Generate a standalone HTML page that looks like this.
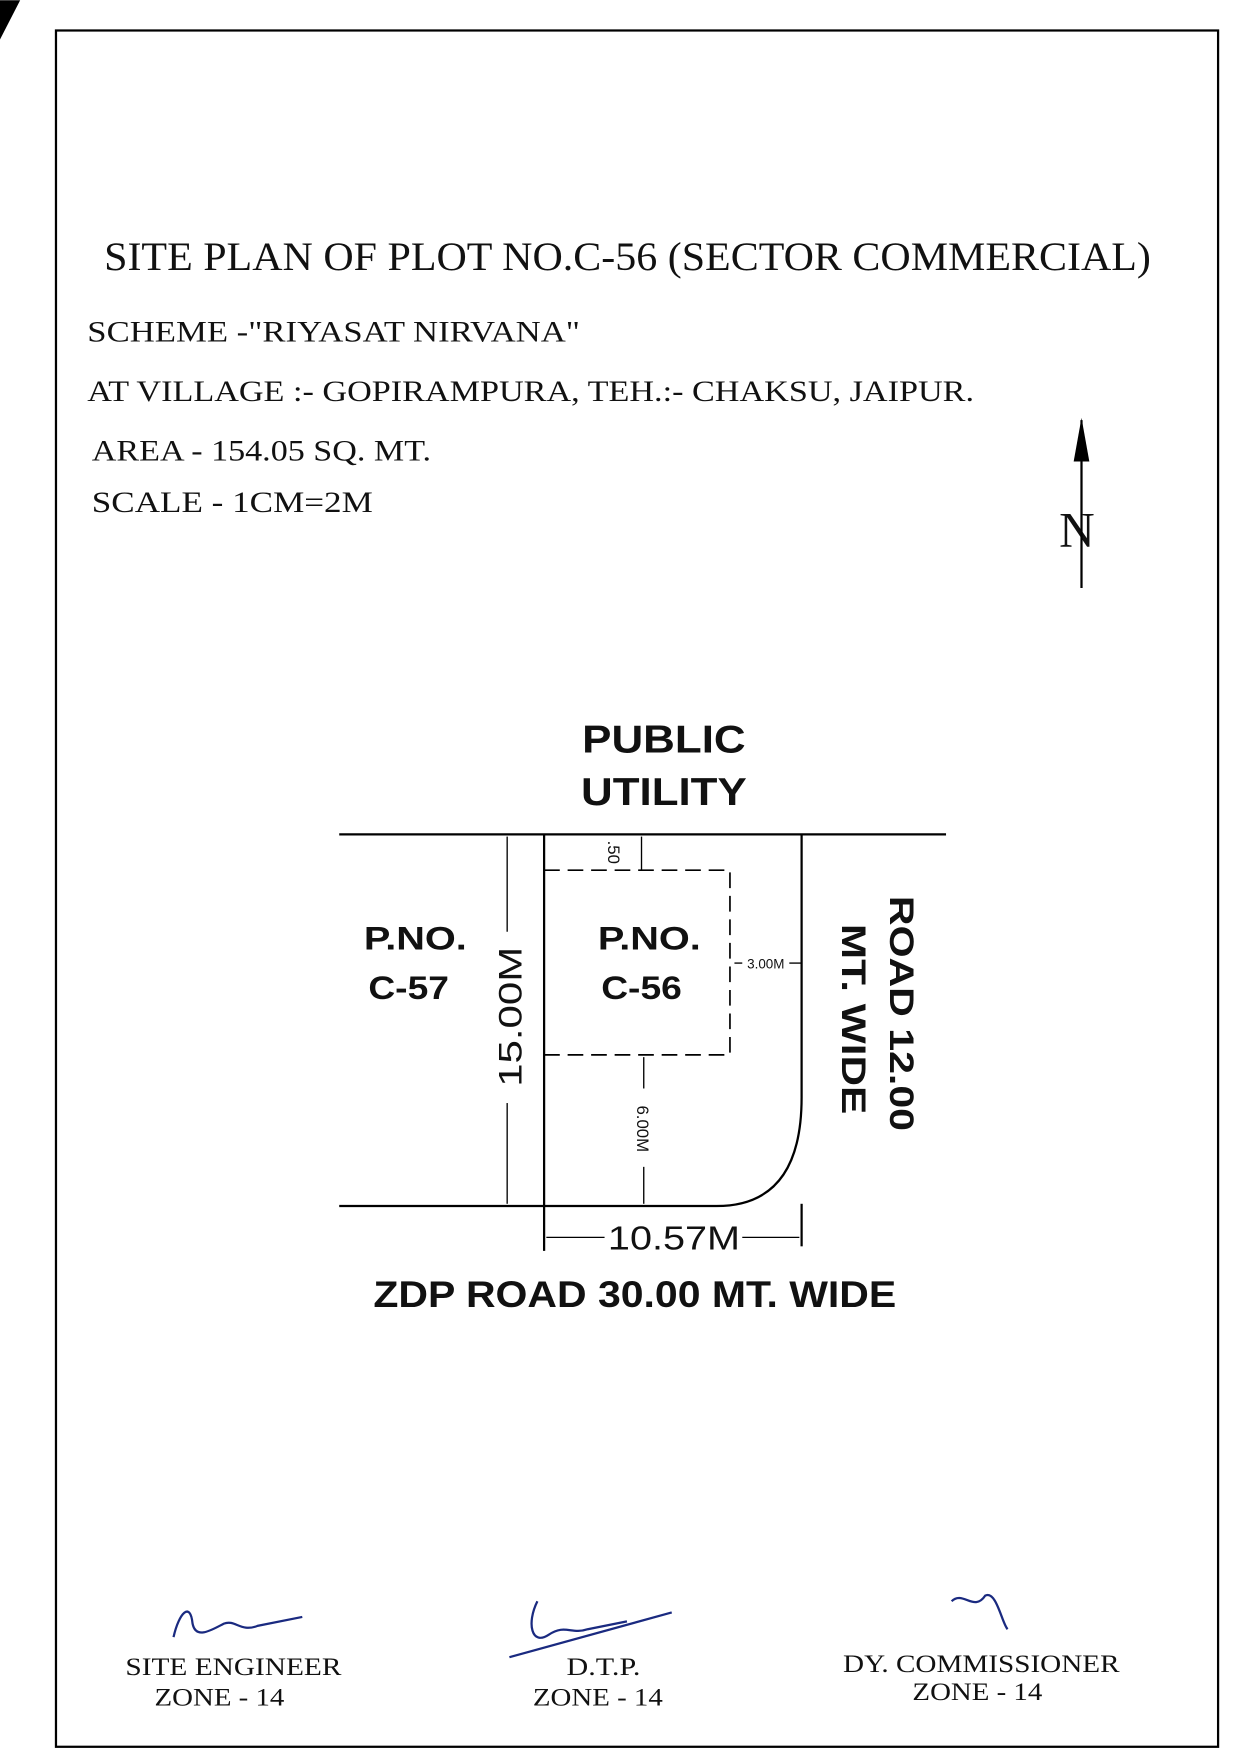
<!DOCTYPE html>
<html><head><style>html,body{margin:0;padding:0;background:#fff}svg{display:block}</style></head>
<body>
<svg width="1236" height="1756" viewBox="0 0 1104 1568" xmlns="http://www.w3.org/2000/svg">
<rect width="1104" height="1568" fill="#fff"/>
<polygon points="0,0 18,0 0,35" fill="#000"/>
<rect x="50" y="27" width="1038" height="1533" fill="none" stroke="#000" stroke-width="2"/>
<g font-family="Liberation Serif, serif" fill="#111" lengthAdjust="spacingAndGlyphs">
<text x="93" y="241" font-size="36" textLength="935" lengthAdjust="spacingAndGlyphs">SITE PLAN OF PLOT NO.C-56 (SECTOR COMMERCIAL)</text>
<text x="78" y="305" font-size="26" textLength="440" lengthAdjust="spacingAndGlyphs">SCHEME -"RIYASAT NIRVANA"</text>
<text x="78" y="358" font-size="26" textLength="792" lengthAdjust="spacingAndGlyphs">AT VILLAGE :- GOPIRAMPURA, TEH.:- CHAKSU, JAIPUR.</text>
<text x="82" y="411" font-size="26" textLength="303" lengthAdjust="spacingAndGlyphs">AREA  - 154.05 SQ. MT.</text>
<text x="82" y="457" font-size="26" textLength="251" lengthAdjust="spacingAndGlyphs">SCALE -  1CM=2M</text>
<text x="946" y="488" font-size="44">N</text>
<text x="112" y="1496" font-size="23" textLength="193" lengthAdjust="spacingAndGlyphs">SITE ENGINEER</text>
<text x="138" y="1523" font-size="23" textLength="116" lengthAdjust="spacingAndGlyphs">ZONE - 14</text>
<text x="506" y="1496" font-size="23" textLength="66" lengthAdjust="spacingAndGlyphs">D.T.P.</text>
<text x="476" y="1523" font-size="23" textLength="116" lengthAdjust="spacingAndGlyphs">ZONE - 14</text>
<text x="753" y="1493" font-size="23" textLength="247" lengthAdjust="spacingAndGlyphs">DY. COMMISSIONER</text>
<text x="815" y="1518" font-size="23" textLength="116" lengthAdjust="spacingAndGlyphs">ZONE - 14</text>
</g>
<line x1="966" y1="375" x2="966" y2="525" stroke="#000" stroke-width="2"/>
<polygon points="966,373 959,412 973,412" fill="#000"/>
<g font-family="Liberation Sans, sans-serif" font-weight="bold" fill="#111" text-anchor="middle">
<text x="593" y="672" font-size="35" textLength="146" lengthAdjust="spacingAndGlyphs">PUBLIC</text>
<text x="593" y="719" font-size="35" textLength="148" lengthAdjust="spacingAndGlyphs">UTILITY</text>
<text x="371" y="848" font-size="29" textLength="92" lengthAdjust="spacingAndGlyphs">P.NO.</text>
<text x="365" y="892" font-size="29" textLength="72" lengthAdjust="spacingAndGlyphs">C-57</text>
<text x="580" y="848" font-size="29" textLength="92" lengthAdjust="spacingAndGlyphs">P.NO.</text>
<text x="573" y="892" font-size="29" textLength="72" lengthAdjust="spacingAndGlyphs">C-56</text>
<text x="567" y="1167" font-size="33" textLength="467" lengthAdjust="spacingAndGlyphs">ZDP ROAD 30.00 MT. WIDE</text>
<text transform="translate(795,905) rotate(90)" font-size="31" textLength="210" lengthAdjust="spacingAndGlyphs">ROAD 12.00</text>
<text transform="translate(752,910) rotate(90)" font-size="31" textLength="170" lengthAdjust="spacingAndGlyphs">MT. WIDE</text>
</g>
<g stroke="#000" fill="none" stroke-width="2">
<line x1="303" y1="745" x2="845" y2="745"/>
<path d="M303 1077 H640 Q716 1077 716 980 V745"/>
<line x1="486" y1="745" x2="486" y2="1117"/>
<line x1="716" y1="1075" x2="716" y2="1113"/>
<rect x="486" y="777" width="166" height="165" stroke-dasharray="14,7" stroke-width="1.5"/>
<g stroke-width="1.2">
<line x1="453" y1="747" x2="453" y2="832"/><line x1="453" y1="985" x2="453" y2="1075"/>
<line x1="573" y1="747" x2="573" y2="777"/>
<line x1="656" y1="860" x2="663" y2="860"/><line x1="705" y1="860" x2="716" y2="860"/>
<line x1="575" y1="944" x2="575" y2="972"/><line x1="575" y1="1042" x2="575" y2="1075"/>
<line x1="488" y1="1105" x2="540" y2="1105"/><line x1="663" y1="1105" x2="714" y2="1105"/>
</g>
</g>
<g font-family="Liberation Sans, sans-serif" fill="#111" text-anchor="middle">
<text transform="translate(466,908) rotate(-90)" font-size="29" textLength="125" lengthAdjust="spacingAndGlyphs">15.00M</text>
<text transform="translate(543,761) rotate(90)" font-size="15">.50</text>
<text x="684" y="865" font-size="12">3.00M</text>
<text transform="translate(569,1008) rotate(90)" font-size="15">6.00M</text>
<text x="602" y="1116" font-size="30" textLength="118" lengthAdjust="spacingAndGlyphs">10.57M</text>
</g>
<g stroke="#1a2a80" fill="none" stroke-width="2">
<path d="M155 1462 C160 1440 170 1430 172 1450 C175 1465 190 1455 200 1450 C210 1446 215 1458 230 1452 L270 1444"/>
<path d="M455 1480 L600 1440 M480 1430 C470 1450 475 1470 490 1460 C505 1450 510 1460 525 1455 L560 1448"/>
<path d="M850 1430 C860 1420 870 1440 880 1425 C890 1420 895 1450 900 1455"/>
</g>
</svg>
</body></html>
